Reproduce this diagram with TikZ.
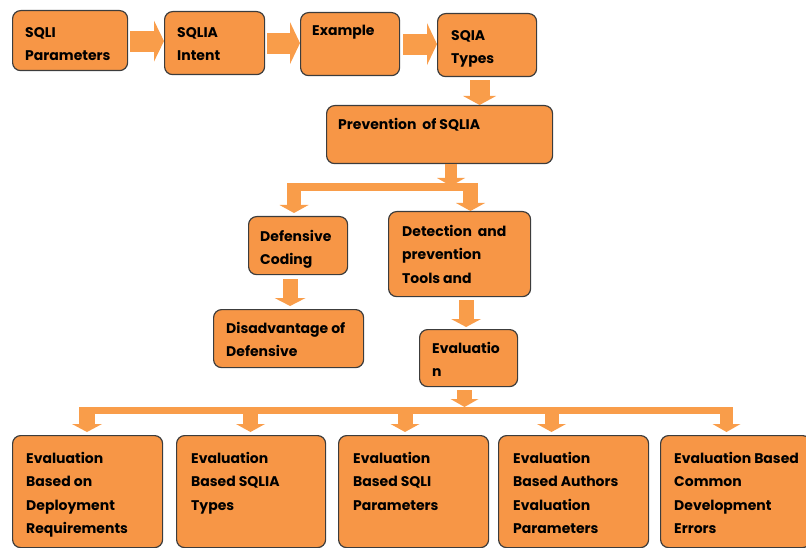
\documentclass[tikz,border=0pt]{standalone}
\usepackage{fontspec}
\setmainfont{Poppins}
\usetikzlibrary{arrows.meta,calc}
\definecolor{boxfill}{HTML}{F79646}
\definecolor{arrfill}{HTML}{F99D4A}
\definecolor{boxline}{HTML}{3C3C3C}
\tikzset{
  box/.style={draw=boxline, fill=boxfill, rounded corners=8pt, line width=1.2pt, inner sep=0pt, anchor=north west},
  txt/.style={anchor=north west, inner sep=0pt, align=left, font=\fontsize{14}{23.5}\selectfont\bfseries, text=black},
  blk/.style n args={3}{draw=arrfill, line width=#1pt, -{Triangle[width=#2pt,length=#3pt,line width=0pt]}},
  bar/.style={draw=arrfill, line width=#1pt},
}
\newcommand\firstln{\rule{0pt}{12pt}}
\begin{document}
\begin{tikzpicture}[x=1pt,y=-1pt]
\useasboundingbox (0,0) rectangle (806,548);
% boxes
\node[box, minimum width=115pt, minimum height=60pt] (n1) at (12,10) {};
\node[box, minimum width=100pt, minimum height=63pt] (n2) at (164,11) {};
\node[box, minimum width=99pt, minimum height=63pt] (n3) at (300,12) {};
\node[box, minimum width=99pt, minimum height=63pt] (n4) at (437,13) {};
\node[box, minimum width=226pt, minimum height=58pt] (n5) at (326,105) {};
\node[box, minimum width=99pt, minimum height=58pt] (n6) at (248,216) {};
\node[box, minimum width=142pt, minimum height=85pt] (n7) at (388,211) {};
\node[box, minimum width=150pt, minimum height=58pt] (n8) at (213,309) {};
\node[box, minimum width=98pt, minimum height=57pt] (n9) at (419,329) {};
\node[box, minimum width=150pt, minimum height=112pt] (b1) at (12,435) {};
\node[box, minimum width=149pt, minimum height=112pt] (b2) at (176,435) {};
\node[box, minimum width=150pt, minimum height=112pt] (b3) at (338,435) {};
\node[box, minimum width=150pt, minimum height=112pt] (b4) at (498,435) {};
\node[box, minimum width=150pt, minimum height=112pt] (b5) at (660,435) {};
% texts
\node[txt] (t1) at (25,25) {\firstln SQLI\\Parameters};
\node[txt] (t2) at (177,25) {\firstln SQLIA\\Intent};
\node[txt] (t3) at (312,23) {\firstln Example};
\node[txt] (t4) at (451,28) {\firstln SQIA\\Types};
\node[txt] (t5) at (338,117) {\firstln Prevention\ \ of SQLIA};
\node[txt] (t6) at (260,229) {\firstln Defensive\\Coding};
\node[txt] (t7) at (402,224) {\firstln Detection\ \ and\\prevention\\Tools and};
\node[txt] (t8) at (226,321) {\firstln Disadvantage of\\Defensive};
\node[txt] (t9) at (432,341) {\firstln Evaluatio\\n};
\node[txt] (tb1) at (26,451) {\firstln Evaluation\\Based on\\Deployment\\Requirements};
\node[txt] (tb2) at (191,451) {\firstln Evaluation\\Based SQLIA\\Types};
\node[txt] (tb3) at (353,451) {\firstln Evaluation\\Based SQLI\\Parameters};
\node[txt] (tb4) at (513,451) {\firstln Evaluation\\Based Authors\\Evaluation\\Parameters};
\node[txt] (tb5) at (674,451) {\firstln Evaluation Based\\Common\\Development\\Errors};
% top row arrows
\draw[blk={21}{41}{10}, shorten <=2pt] ([yshift=-0.5pt]n1.east) -- ([yshift=-0.5pt]n1.east -| n2.west);
\draw[blk={21}{42}{10}, shorten <=2pt] (n2.east) -- (n2.east -| n3.west);
\draw[blk={21}{42}{10}, shorten <=3pt] (n3.east) -- (n3.east -| n4.west);
\draw[blk={20}{33}{9}, shorten <=3pt] ([xshift=-7.5pt]n4.south) -- ([xshift=-7.5pt]n4.south |- n5.north);
% first branch
\coordinate (j1) at (451,186);
\coordinate (j1L) at (287,187);
\coordinate (j1R) at (478,187);
\coordinate (d1L) at (294,183);
\coordinate (d1R) at (470.5,183);
\draw[blk={12}{28}{8}] (n5.south -| j1) -- (j1);
\draw[bar=8] (j1L) -- (j1R);
\draw[blk={14}{29}{8}] (d1L) -- ([yshift=3pt]d1L |- n6.north);
\draw[blk={15}{29}{8}] (d1R) -- (d1R |- n7.north);
% second level
\draw[blk={15}{31}{8}, shorten <=4pt] ([xshift=-8pt]n6.south) -- ([xshift=-8pt,yshift=3pt]n6.south |- n8.north);
\draw[blk={15}{30}{8}, shorten <=3pt] ([xshift=6.5pt]n7.south) -- ([xshift=6.5pt,yshift=2pt]n7.south |- n9.north);
% bottom branch
\coordinate (j2) at (464.5,407);
\coordinate (j2L) at (79,410.5);
\coordinate (j2R) at (733,410.5);
\draw[blk={15}{28}{8}, shorten <=3pt] (n9.south -| j2) -- (j2);
\draw[bar=7] (j2L) -- (j2R);
\foreach \bx/\cx/\sw/\hw in {b1/87/16/30, b2/250.5/15/29, b3/405/15/29, b4/551.5/14/29, b5/726.5/13/28} {
  \coordinate (s\bx) at (\cx,407);
  \draw[blk={\sw}{\hw}{8}] (s\bx) -- ([yshift=3pt]s\bx |- \bx.north);
}
\end{tikzpicture}
\end{document}
